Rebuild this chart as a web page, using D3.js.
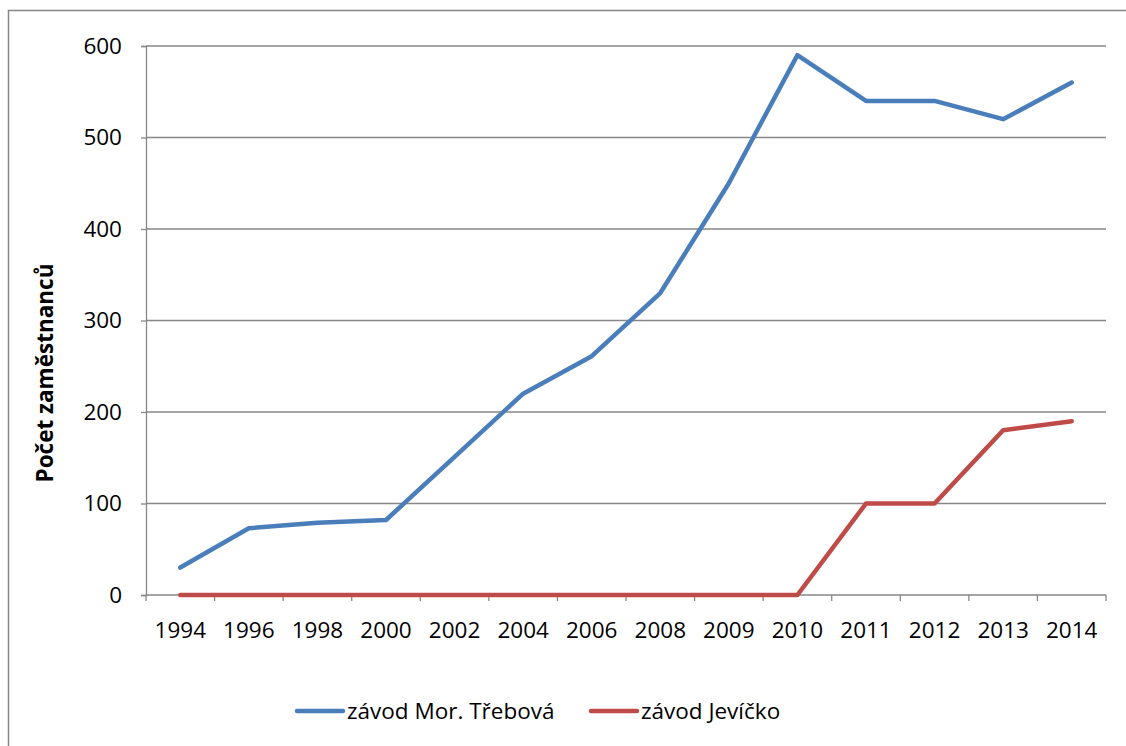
<!DOCTYPE html>
<html>
<head>
<meta charset="utf-8">
<script src="https://cdn.jsdelivr.net/npm/d3@7"></script>
<style>
	body { margin: 0; background: #fff; overflow: hidden; }
	svg { display: block; }
	text { font-family: 'Open Sans', 'Noto Sans', sans-serif; fill: #000; }
</style>
</head>
<body>
<div class="chart-container"></div>
<script>
const years = ['1994', '1996', '1998', '2000', '2002', '2004', '2006', '2008', '2009', '2010', '2011', '2012', '2013', '2014'];
const trebova = [30, 73, 79, 82, 151, 220, 261, 330, 450, 590, 540, 540, 520, 560];
const jevicko = [0, 0, 0, 0, 0, 0, 0, 0, 0, 0, 100, 100, 180, 190];
const yTicks = [0, 100, 200, 300, 400, 500, 600];
const seriesNames = ['závod Mor. Třebová', 'závod Jevíčko'];
const seriesColors = ['#4a7ebb', '#be4b48'];

let width = 1126, height = 746;
let margin = { top: 46, right: 20, bottom: 151, left: 146 };
let innerW = 1106 - margin.left, innerH = 595 - margin.top;

let svg = d3
	.select('.chart-container')
	.append('svg')
	.attr('width', width)
	.attr('height', height);

// outer chart frame (only top and left edges are inside the picture)
svg.append('path')
	.attr('d', 'M8.5,' + height + 'V10.5H' + width)
	.attr('fill', 'none').attr('stroke', '#868686').attr('stroke-width', 1.5);

let g = svg.append('g').attr('transform', 'translate(' + margin.left + ',' + margin.top + ')');

let x = d3.scaleBand().domain(years).range([0, innerW]);
let y = d3.scaleLinear().domain([0, 600]).range([innerH, 0]);

// gridlines
g.append('g')
	.selectAll('line')
	.data(yTicks.slice(1))
	.join('line')
	.attr('x1', 0).attr('x2', innerW)
	.attr('y1', (d) => y(d)).attr('y2', (d) => y(d))
	.attr('stroke', '#878787').attr('stroke-width', 1.3);

// y axis
let yAxis = g.append('g').call(d3.axisLeft(y).tickValues(yTicks).tickSize(5).tickPadding(19));
yAxis.select('.domain').attr('stroke', '#878787').attr('stroke-width', 1.3);
yAxis.selectAll('.tick line').attr('stroke', '#878787').attr('stroke-width', 1.3);
yAxis.selectAll('.tick text').attr('font-size', 22.5).style('font-family', "'Open Sans', sans-serif");

// x axis: ticks at category boundaries
let xAxisG = g.append('g').attr('transform', 'translate(0,' + innerH + ')');
xAxisG.append('line')
	.attr('x1', 0).attr('x2', innerW)
	.attr('stroke', '#878787').attr('stroke-width', 1.3);
xAxisG.selectAll('.xtick')
	.data(d3.range(years.length + 1))
	.join('line')
	.attr('class', 'xtick')
	.attr('x1', (i) => i * x.step()).attr('x2', (i) => i * x.step())
	.attr('y1', 0).attr('y2', 6)
	.attr('stroke', '#878787').attr('stroke-width', 1.3);
xAxisG.selectAll('.xlabel')
	.data(years)
	.join('text')
	.attr('class', 'xlabel')
	.attr('x', (d) => x(d) + x.bandwidth() / 2)
	.attr('y', 43)
	.attr('text-anchor', 'middle')
	.attr('font-size', 22.5)
	.text((d) => d);

// y axis title
svg.append('text')
	.attr('transform', 'translate(53,373) rotate(-90)')
	.attr('text-anchor', 'middle')
	.attr('font-size', 22.5)
	.attr('font-weight', 'bold')
	.text('Počet zaměstnanců');

let line = d3.line()
	.x((d, i) => x(years[i]) + x.bandwidth() / 2)
	.y((d) => y(d));

[trebova, jevicko].forEach(function(values, k) {
	g.append('path')
		.datum(values)
		.attr('fill', 'none')
		.attr('stroke', seriesColors[k])
		.attr('stroke-width', 4.5)
		.attr('stroke-linecap', 'round')
		.attr('stroke-linejoin', 'round')
		.attr('d', line);
});

// legend
let legendX = [297, 591];
seriesNames.forEach(function(name, k) {
	let lg = svg.append('g').attr('transform', 'translate(' + legendX[k] + ',711)');
	lg.append('line')
		.attr('x1', 0).attr('x2', 46)
		.attr('stroke', seriesColors[k]).attr('stroke-width', 4.5)
		.attr('stroke-linecap', 'round');
	lg.append('text')
		.attr('x', 50).attr('y', 8)
		.attr('font-size', 22.5)
		.text(name);
});
</script>
</body>
</html>
